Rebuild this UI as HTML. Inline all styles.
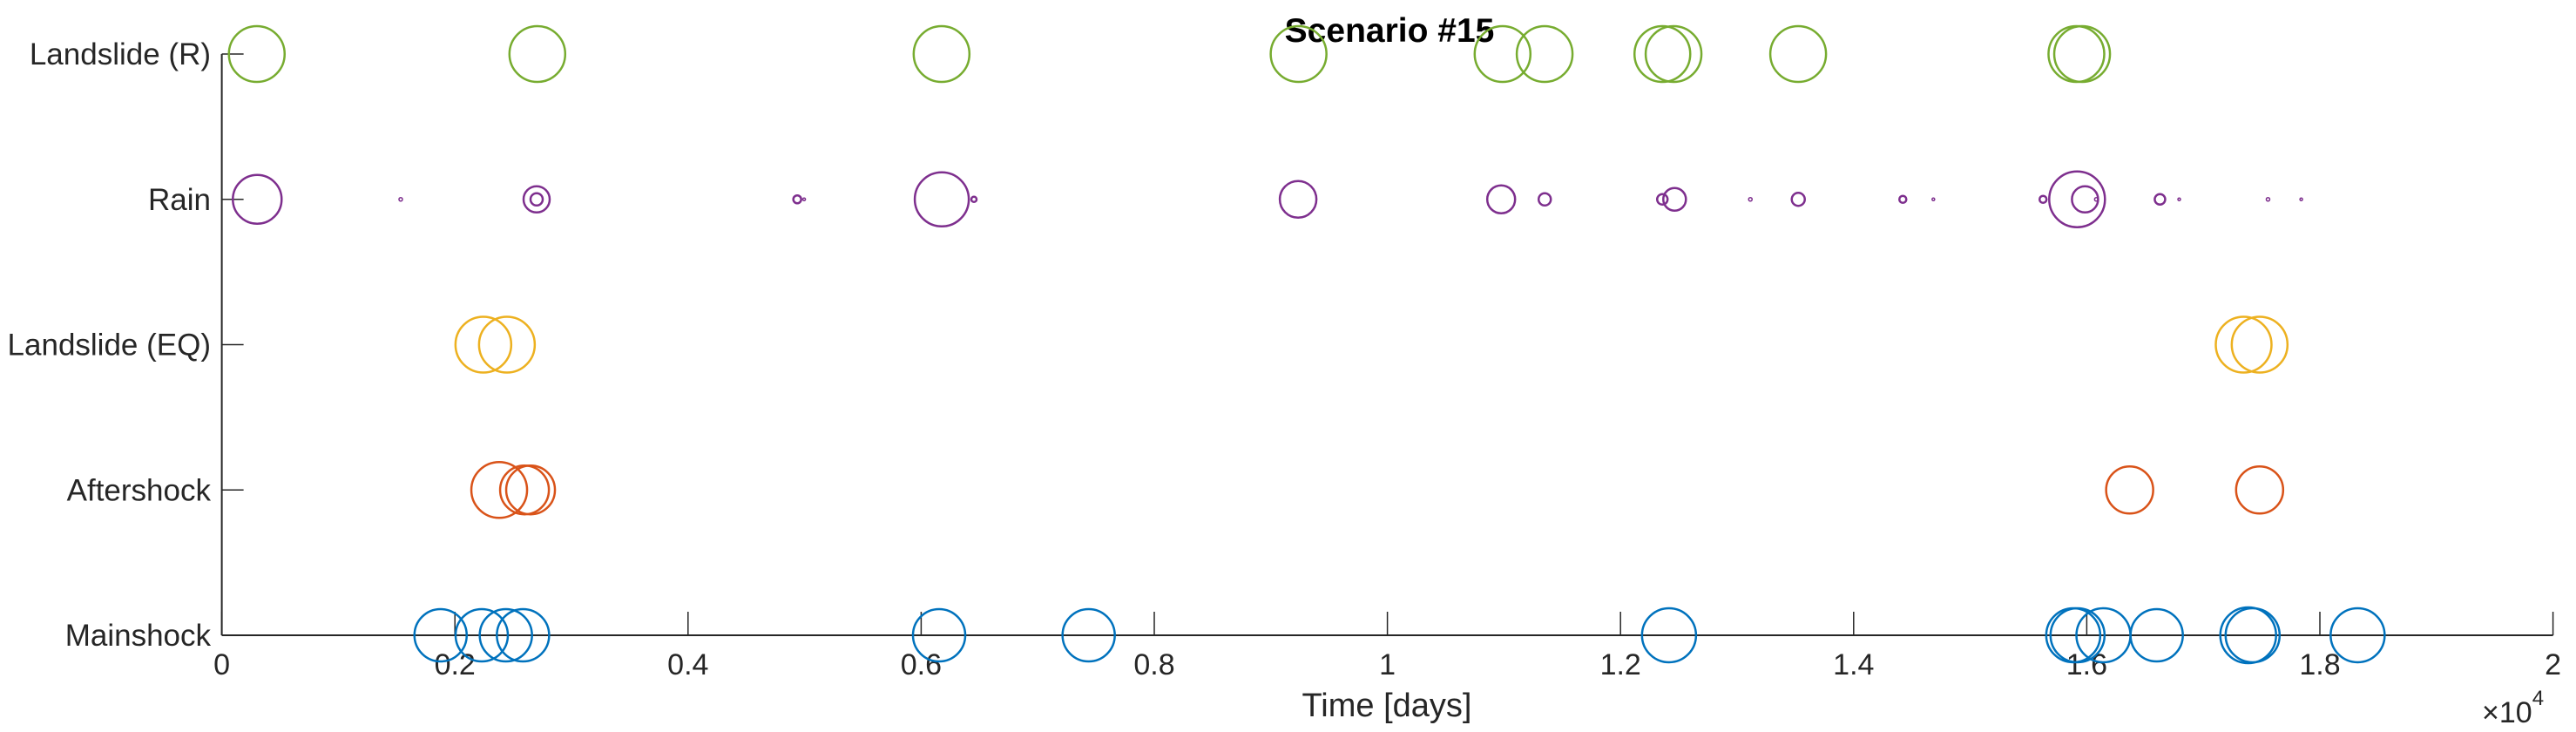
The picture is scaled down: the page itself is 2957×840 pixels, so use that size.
<!DOCTYPE html>
<html><head><meta charset="utf-8"><style>
html,body{margin:0;padding:0;background:#fff;}
svg{display:block;font-family:"Liberation Sans",Arial,sans-serif;}
</style></head><body>
<svg id="chart" width="2957" height="840" viewBox="0 0 2957 840" xmlns="http://www.w3.org/2000/svg">
<text x="1595" y="48" font-size="39" font-weight="bold" text-anchor="middle" fill="#000">Scenario #15</text>
<g id="axes"></g>
<g id="marks"></g>
<text x="1592" y="822" font-size="38" text-anchor="middle" fill="#262626">Time [days]</text>
<text x="2849" y="829" font-size="34" fill="#262626">×10<tspan font-size="24" dy="-20">4</tspan></text>
</svg>
<script>
const categories = ["Mainshock","Aftershock","Landslide (EQ)","Rain","Landslide (R)"];
const xTicks = [0,2000,4000,6000,8000,10000,12000,14000,16000,18000,20000];
const xTickLabels = ["0","0.2","0.4","0.6","0.8","1","1.2","1.4","1.6","1.8","2"];
const colors = ["#0072BD","#D95319","#EDB120","#7E2F8E","#77AC30"];
const mainshockTimes = [1877,2230,2437,2584,6154,7437,12416,15884,15921,16143,16600,17385,17423,18324];
const mainshockSizes = [30,30,30,30,30,30,31,31,31,31,30,32,31,31];
const aftershockTimes = [2380,2597,2649,16368,17483];
const aftershockSizes = [32,28,28,27,27];
const landslideEqTimes = [2244,2446,17346,17483];
const landslideEqSizes = [32,32,32,32];
const rainTimes = [304,1535,2701,2701,4937,4996,6177,6453,9234,10976,11350,12359,12464,13114,13525,14422,14684,15625,15917,15985,16082,16628,16793,17555,17840];
const rainSizes = [28,2,15,7,4.5,1.5,31,3,21,16,7,6,13,2,7.5,4,1.5,4,32,15,2,6,1.5,2,1.5];
const landslideRTimes = [300,2707,6175,9238,10988,11349,12359,12455,13524,15911,15960];
const landslideRSizes = [32,32,32,32,32,32,32,32,32,32,32];

const X0=254.6, X1=2930.6, XMIN=0, XMAX=20000;
const YTOP=62, YBOT=729;
function xs(v){return X0+(v-XMIN)/(XMAX-XMIN)*(X1-X0);}
function ys(i){return YBOT-i*(YBOT-YTOP)/(categories.length-1);}
const NS="http://www.w3.org/2000/svg";
function mk(tag,attrs,parent){const e=document.createElementNS(NS,tag);for(const k in attrs)e.setAttribute(k,attrs[k]);parent.appendChild(e);return e;}
const axes=document.getElementById('axes');
const marks=document.getElementById('marks');

let l=mk('line',{x1:X0,y1:YBOT,x2:X1,y2:YBOT,stroke:'#262626','stroke-width':2},axes);


l=mk('line',{x1:X0,y1:YTOP,x2:X0,y2:YBOT,stroke:'#262626','stroke-width':2},axes);



xTicks.forEach((t,i)=>{
  const x=xs(t);
  const tk=mk('line',{x1:x,y1:YBOT,x2:x,y2:YBOT-27,stroke:'#262626','stroke-width':1.5},axes);
  
  
  const tx=mk('text',{x:x,y:774,'font-size':34,'text-anchor':'middle',fill:'#262626'},axes);
  tx.textContent=xTickLabels[i];
  
  
});
categories.forEach((c,i)=>{
  const y=ys(i);
  const tk=mk('line',{x1:X0,y1:y,x2:X0+25,y2:y,stroke:'#262626','stroke-width':1.5},axes);
  
  
  const tx=mk('text',{x:242,y:y+12,'font-size':35,'text-anchor':'end',fill:'#262626'},axes);
  tx.textContent=c;
  
  
});

const series=[[mainshockTimes,mainshockSizes,'mainshock-marker'],[aftershockTimes,aftershockSizes,'aftershock-marker'],[landslideEqTimes,landslideEqSizes,'landslide-eq-marker'],[rainTimes,rainSizes,'rain-marker'],[landslideRTimes,landslideRSizes,'landslide-r-marker']];
series.forEach((s,i)=>{
  const [times,sizes,name]=s;
  times.forEach((t,j)=>{
    const r=sizes[j];
    const c=mk('circle',{cx:xs(t),cy:ys(i),r:r,fill:'none',stroke:colors[i],'stroke-width':r<3?1.5:2.5},marks);
    
    
  });
});
</script>
</body></html>
